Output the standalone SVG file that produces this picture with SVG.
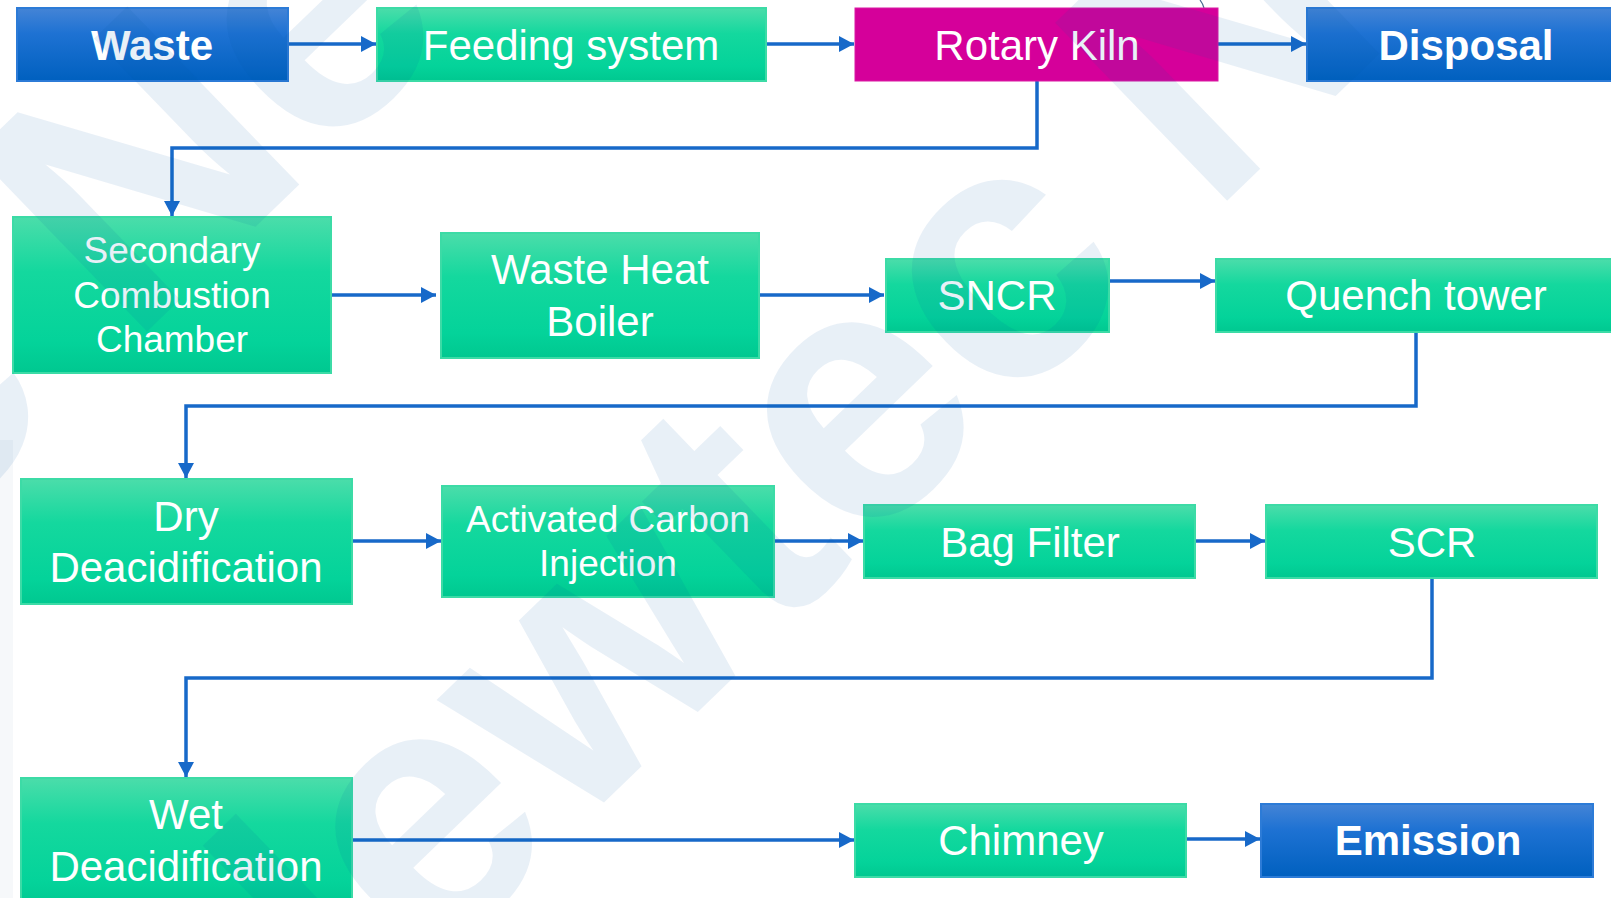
<svg xmlns="http://www.w3.org/2000/svg" width="1611" height="898" viewBox="0 0 1611 898">
<style>
.g{fill:url(#gg);stroke:#3CDBA6;stroke-width:2}
.b{fill:url(#bg);stroke:#2C7BD7;stroke-width:2}
.m{fill:#D5009A;stroke:#DA1AA3;stroke-width:1}
.t{font-family:"Liberation Sans",Arial,sans-serif;fill:#FFFFFF;text-anchor:middle;font-size:42px}
.s{font-size:37px}
.bd{font-weight:bold}
.c{fill:none;stroke:#1769C9;stroke-width:3.5}
.a{marker-end:url(#ah)}
</style>
<defs>
<linearGradient id="gg" x1="0" y1="0" x2="0" y2="1">
<stop offset="0" stop-color="#4BDDAA"/>
<stop offset="0.35" stop-color="#14D89E"/>
<stop offset="0.8" stop-color="#04D39A"/>
<stop offset="1" stop-color="#00C890"/>
</linearGradient>
<linearGradient id="bg" x1="0" y1="0" x2="0" y2="1">
<stop offset="0" stop-color="#4484D6"/>
<stop offset="0.35" stop-color="#1E72D3"/>
<stop offset="1" stop-color="#0060BF"/>
</linearGradient>
<marker id="ah" markerUnits="userSpaceOnUse" markerWidth="16" markerHeight="16" refX="15" refY="8" orient="auto">
<path d="M0,0 L15,8 L0,16 Z" fill="#1769C9"/>
</marker>
</defs>
<rect x="0" y="0" width="1611" height="898" fill="#FFFFFF"/>
<rect x="0" y="440" width="13" height="458" fill="#F6F8FA"/>
<path d="M1200,0 Q1203,4 1204,8" fill="none" stroke="#4A6A90" stroke-width="1.2"/>

<g id="connectors">
<path class="c a" d="M288,44 H376"/>
<path class="c a" d="M766,44 H854"/>
<path class="c a" d="M1218,44 H1306"/>
<path class="c a" d="M1037,81 V148 H172 V216"/>
<path class="c a" d="M331,295 H436"/>
<path class="c a" d="M752,295 H884"/>
<path class="c a" d="M1109,281 H1215"/>
<path class="c a" d="M1416,332 V406 H186 V478"/>
<path class="c a" d="M352,541 H441"/>
<path class="c a" d="M774,541 H863"/>
<path class="c a" d="M1195,541 H1265"/>
<path class="c a" d="M1432,578 V678 H186 V777"/>
<path class="c a" d="M352,840 H854"/>
<path class="c a" d="M1186,839 H1260"/>
</g>

<g id="waste"><rect class="b" x="17" y="8" width="271" height="73"/><text class="t bd" x="152" y="60">Waste</text></g>
<g id="feeding"><rect class="g" x="377" y="8" width="389" height="73"/><text class="t" x="571" y="60">Feeding system</text></g>
<g id="kiln"><rect class="m" x="855" y="8" width="363" height="73"/><text class="t" x="1037" y="60">Rotary Kiln</text></g>
<g id="disposal"><rect class="b" x="1307" y="8" width="310" height="73"/><text class="t bd" x="1466" y="60">Disposal</text></g>

<g id="scc"><rect class="g" x="13" y="217" width="318" height="156"/>
<text class="t s" x="172" y="263">Secondary</text>
<text class="t s" x="172" y="308">Combustion</text>
<text class="t s" x="172" y="352">Chamber</text></g>
<g id="whb"><rect class="g" x="441" y="233" width="318" height="125"/>
<text class="t" x="600" y="284">Waste Heat</text>
<text class="t" x="600" y="336">Boiler</text></g>
<g id="sncr"><rect class="g" x="886" y="259" width="223" height="73"/><text class="t" x="997" y="310">SNCR</text></g>
<g id="quench"><rect class="g" x="1216" y="259" width="400" height="73"/><text class="t" x="1416" y="310">Quench tower</text></g>

<g id="dry"><rect class="g" x="21" y="479" width="331" height="125"/>
<text class="t" x="186" y="531">Dry</text>
<text class="t" x="186" y="582">Deacidification</text></g>
<g id="aci"><rect class="g" x="442" y="486" width="332" height="111"/>
<text class="t s" x="608" y="532">Activated Carbon</text>
<text class="t s" x="608" y="576">Injection</text></g>
<g id="bag"><rect class="g" x="864" y="505" width="331" height="73"/><text class="t" x="1030" y="557">Bag Filter</text></g>
<g id="scr"><rect class="g" x="1266" y="505" width="331" height="73"/><text class="t" x="1432" y="557">SCR</text></g>

<g id="wet"><rect class="g" x="21" y="778" width="331" height="130"/>
<text class="t" x="186" y="829">Wet</text>
<text class="t" x="186" y="881">Deacidification</text></g>
<g id="chimney"><rect class="g" x="855" y="804" width="331" height="73"/><text class="t" x="1021" y="855">Chimney</text></g>
<g id="emission"><rect class="b" x="1261" y="804" width="332" height="73"/><text class="t bd" x="1428" y="855">Emission</text></g>

<g id="watermark" fill="#005BAA" fill-opacity="0.09" font-family="Liberation Sans, Arial, sans-serif" font-weight="bold" font-size="360">
<text transform="translate(432 838) rotate(-44)" x="-360" y="94">Newtec<tspan dx="90">Newtec</tspan></text>
<text transform="translate(323 31) rotate(-44)" x="-1710" y="94">Newtec<tspan dx="90">Newtec</tspan></text>
</g>
</svg>
